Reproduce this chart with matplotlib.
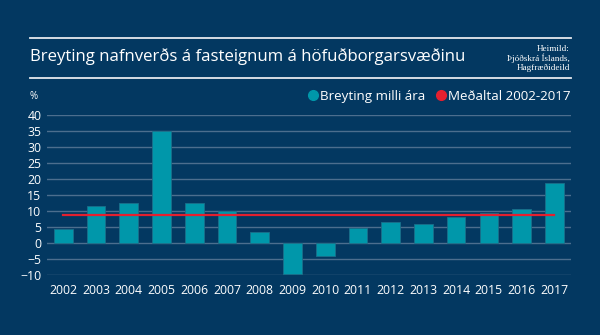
import matplotlib
matplotlib.use('Agg')
import matplotlib.pyplot as plt
from matplotlib.lines import Line2D

# Data
years = ['2002', '2003', '2004', '2005', '2006', '2007', '2008', '2009',
         '2010', '2011', '2012', '2013', '2014', '2015', '2016', '2017']
change = [4.5, 11.6, 12.6, 35.1, 12.6, 10.0, 3.6, -9.5,
          -3.9, 4.9, 6.8, 6.2, 8.3, 9.4, 10.8, 18.8]
mean_2002_2017 = 8.9
y_ticks = [-10, -5, 0, 5, 10, 15, 20, 25, 30, 35, 40]

bg = '#033861'
bar_col = '#0097aa'
grid_col = '#4c6e8e'
red = '#e4202f'
txt = '#ffffff'

plt.rcParams['font.family'] = ['Open Sans', 'DejaVu Sans']

fig = plt.figure(figsize=(6, 3.35), dpi=100, facecolor=bg)
ax = fig.add_axes([47 / 600, 1 - 275.3 / 335, (570.7 - 47) / 600, (275.3 - 115.5) / 335])
ax.set_facecolor(bg)

x = range(len(years))
ax.bar(x, change, width=0.57, color=bar_col, edgecolor='#1b6f8a', linewidth=0.6, zorder=3)
ax.plot([0, len(years) - 1], [mean_2002_2017, mean_2002_2017], color=red, linewidth=1.6, zorder=4)

ax.set_xlim(-0.5, len(years) - 0.5)
ax.set_ylim(-10, 40)
ax.set_yticks(y_ticks)
ax.set_xticks(list(x))
ax.set_xticklabels(years)
ax.grid(axis='y', color=grid_col, linewidth=1.0, zorder=0)
ax.tick_params(axis='both', length=0, colors=txt, labelsize=8.8)
ax.tick_params(axis='y', pad=4)
ax.tick_params(axis='x', pad=6)
for s in ax.spines.values():
    s.set_visible(False)

# Header lines and title
for yy in (37.7, 77.7):
    fig.add_artist(Line2D([29.5 / 600, 570.7 / 600], [1 - yy / 335, 1 - yy / 335],
                          color='#e6e9ee', linewidth=1.3))
fig.text(30 / 600, 1 - 57 / 335, 'Breyting nafnverðs á fasteignum á höfuðborgarsvæðinu',
         color=txt, fontsize=12.1, va='center', ha='left')
fig.text(570 / 600, 1 - 58.3 / 335, 'Heimild:\nÞjóðskrá Íslands,\nHagfræðideild',
         color=txt, fontsize=6.6, va='center', ha='right', family='Liberation Serif',
         linespacing=1.05, multialignment='right')
fig.text(29.5 / 600, 1 - 96 / 335, '%', color=txt, fontsize=7, va='center', ha='left')

handles = [Line2D([], [], marker='o', linestyle='none', markersize=7, color=bar_col),
           Line2D([], [], marker='o', linestyle='none', markersize=7, color=red)]
leg = fig.legend(handles, ['Breyting milli ára', 'Meðaltal 2002-2017'], ncol=2,
                 loc='center right', bbox_to_anchor=(571 / 600, 1 - 96 / 335),
                 frameon=False, fontsize=9.6, handlelength=0.6, handletextpad=0.25,
                 columnspacing=0.9, borderpad=0, borderaxespad=0)
for t in leg.get_texts():
    t.set_color(txt)

fig.savefig('out.png', dpi=100, facecolor=bg)
